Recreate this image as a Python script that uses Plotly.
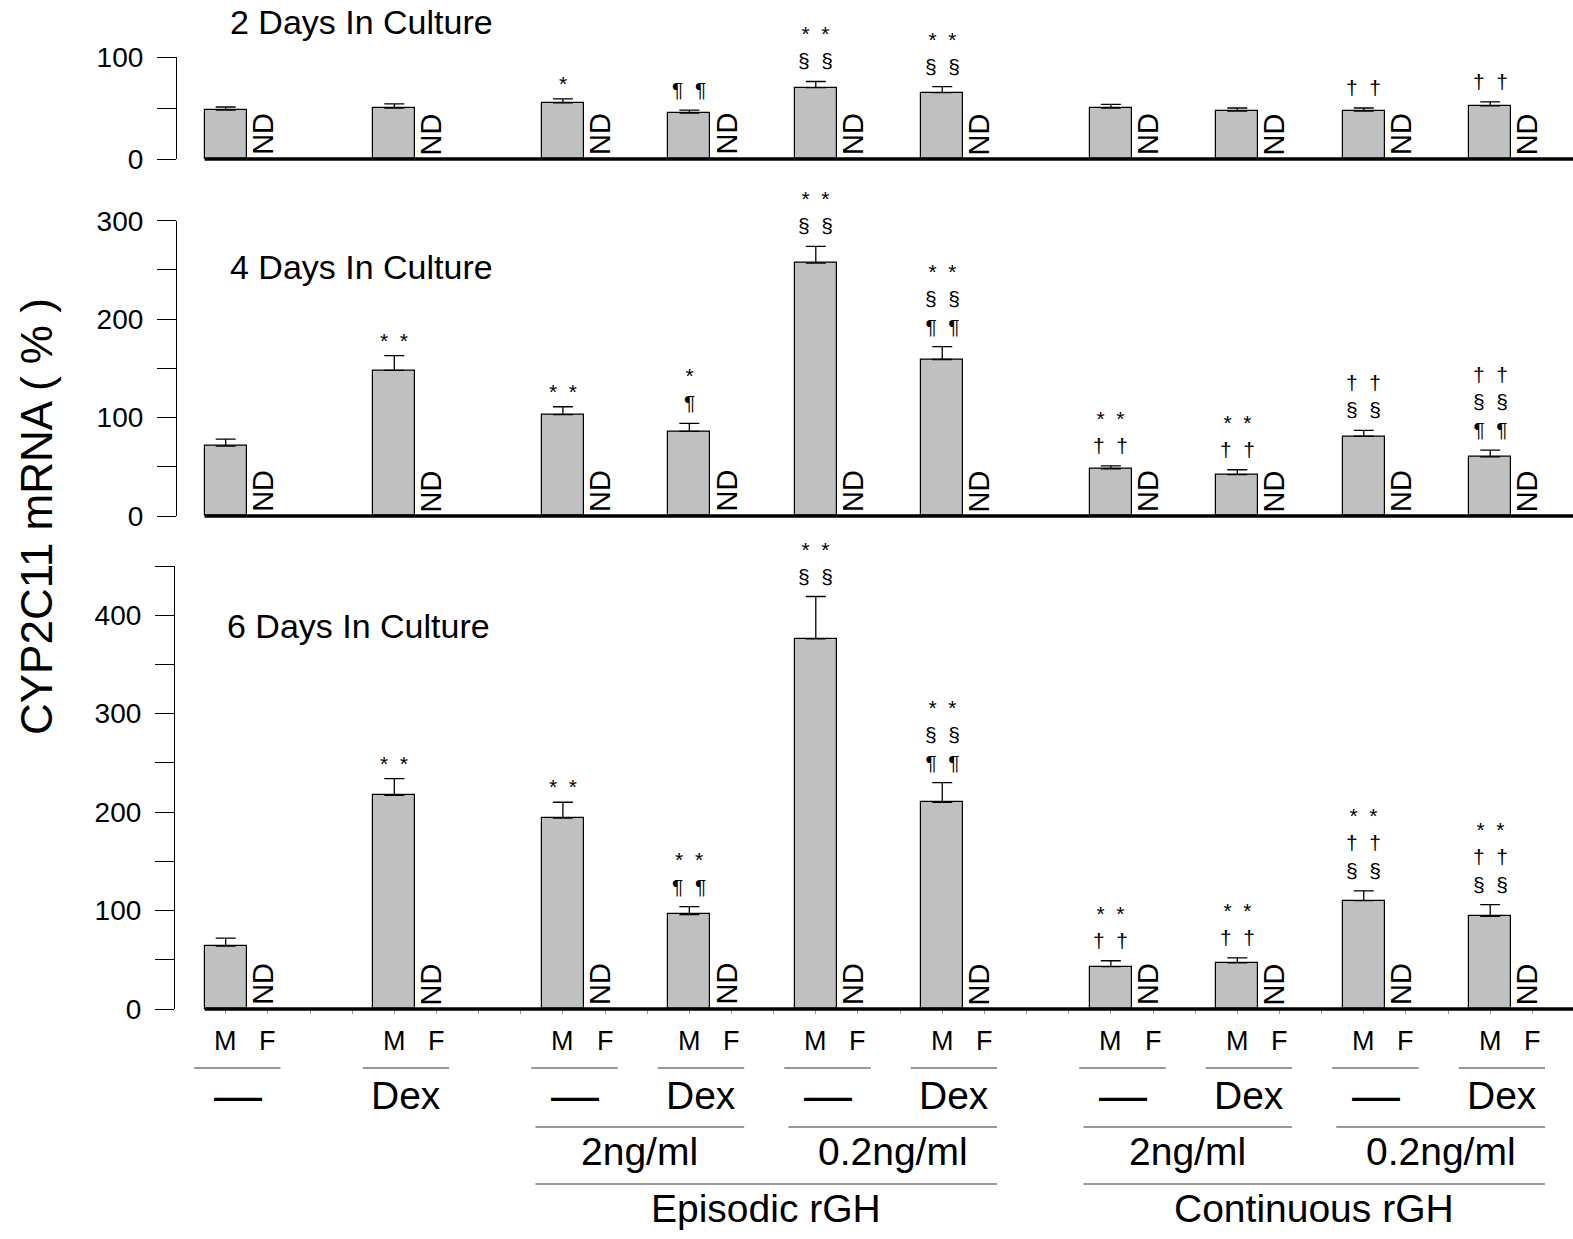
import plotly.graph_objects as go

W, H = 1573, 1239
FONT = "Liberation Sans, Arial, sans-serif"

# ---------------- data ----------------
groups = ["Control", "Dex", "Epi 2ng", "Epi 2ng+Dex", "Epi 0.2ng", "Epi 0.2ng+Dex",
          "Con 2ng", "Con 2ng+Dex", "Con 0.2ng", "Con 0.2ng+Dex"]
block_sizes = [1, 1, 4, 4]

day2_vals = [48, 50, 55, 45, 70, 65, 50, 47, 47, 52]
day2_err = [3, 4, 4, 3, 6, 6, 3.5, 3, 3, 4]
day4_vals = [71, 148, 103, 86, 257, 159, 48, 42, 81, 60]
day4_err = [7, 15, 8, 8, 17, 13, 3, 5, 6, 7]
day6_vals = [64, 217, 194, 96, 376, 210, 43, 47, 110, 94]
day6_err = [8, 17, 16, 8, 43, 20, 6, 5, 10, 12]

day2_sig = [[], [], ["*"], ["¶ ¶"], ["* *", "§ §"], ["* *", "§ §"], [], [], ["† †"], ["† †"]]
day4_sig = [[], ["* *"], ["* *"], ["*", "¶"], ["* *", "§ §"], ["* *", "§ §", "¶ ¶"],
            ["* *", "† †"], ["* *", "† †"], ["† †", "§ §"], ["† †", "§ §", "¶ ¶"]]
day6_sig = [[], ["* *"], ["* *"], ["* *", "¶ ¶"], ["* *", "§ §"], ["* *", "§ §", "¶ ¶"],
            ["* *", "† †"], ["* *", "† †"], ["* *", "† †", "§ §"], ["* *", "† †", "§ §"]]

sex_labels = ["M", "F"]
treatment_labels = ["—", "Dex", "—", "Dex", "—", "Dex", "—", "Dex", "—", "Dex"]
dose_pairs = [(2, 3), (4, 5), (6, 7), (8, 9)]
dose_labels = ["2ng/ml", "0.2ng/ml", "2ng/ml", "0.2ng/ml"]
regimen_spans = [(2, 5), (6, 9)]
regimen_labels = ["Episodic rGH", "Continuous rGH"]
panel_titles = ["2 Days In Culture", "4 Days In Culture", "6 Days In Culture"]
nd_label = "ND"
y_title = "CYP2C11 mRNA ( % )"

# ---------------- layout helpers ----------------
pos = []
xc = 0
for n in block_sizes:
    for k in range(n):
        pos.append(xc)
        xc += 3 if k < n - 1 else 4

PX0, UNIT = 225.7, 42.15
def u_of(px):
    return (px - PX0) / UNIT
def py(px):
    return 1 - px / H

panels = [
    dict(vals=day2_vals, err=day2_err, sig=day2_sig, ypx=(57, 159), x0px=177, yr=[0, 100],
         tickvals=[0, 50, 100], ticktext=["0", "", "100"], title_px=(228, 22)),
    dict(vals=day4_vals, err=day4_err, sig=day4_sig, ypx=(220.7, 516), x0px=177, yr=[0, 300],
         tickvals=list(range(0, 301, 50)), ticktext=["0", "", "100", "", "200", "", "300"], title_px=(228, 267)),
    dict(vals=day6_vals, err=day6_err, sig=day6_sig, ypx=(566, 1009), x0px=175, yr=[0, 450],
         tickvals=list(range(0, 451, 50)),
         ticktext=["0", "", "100", "", "200", "", "300", "", "400", ""], title_px=(225, 626)),
]

SIG_FS = 21

fig = go.Figure()
annotations = []
shapes = []

for i, p in enumerate(panels):
    xa = "x" if i == 0 else f"x{i+1}"
    ya = "y" if i == 0 else f"y{i+1}"
    fig.add_trace(go.Bar(
        x=pos, y=p["vals"], width=1.0, xaxis=xa, yaxis=ya,
        marker=dict(color="#c0c0c0", line=dict(color="black", width=1.2)),
        error_y=dict(type="data", symmetric=False, array=p["err"], arrayminus=[0] * len(pos),
                     color="black", thickness=1.3, width=10),
        showlegend=False, hoverinfo="skip",
    ))
    xkey = "xaxis" if i == 0 else f"xaxis{i+1}"
    ykey = "yaxis" if i == 0 else f"yaxis{i+1}"
    fig.layout[xkey] = dict(
        domain=[p["x0px"] / W, 1], range=[u_of(p["x0px"]), u_of(W)], anchor=ya,
        showline=False, showgrid=False, zeroline=False, showticklabels=False, automargin=False,
        ticks="outside" if i == 2 else "", ticklen=4, tickcolor="#999", tickwidth=1,
        tickvals=list(range(0, 32)) if i == 2 else [],
    )
    fig.layout[ykey] = dict(
        domain=[py(p["ypx"][1]), py(p["ypx"][0])], range=p["yr"], anchor=xa, automargin=False,
        showline=True, linecolor="black", linewidth=1.2, showgrid=False, zeroline=False,
        ticks="outside", ticklen=19, tickwidth=1.2, tickcolor="black",
        tickvals=p["tickvals"], ticktext=p["ticktext"], ticklabelstandoff=8,
        tickfont=dict(family=FONT, size=28, color="black"),
    )
    # thick baseline
    shapes.append(dict(type="line", xref=xa, yref=f"{ya} domain", x0=pos[0] - 0.5, x1=u_of(W),
                       y0=0, y1=0, line=dict(color="black", width=3.5)))
    # panel title
    annotations.append(dict(xref="paper", yref="paper", x=p["title_px"][0] / W, y=py(p["title_px"][1]),
                            xanchor="left", yanchor="middle", text=panel_titles[i], showarrow=False,
                            font=dict(family=FONT, size=34, color="black")))
    for g, xm in enumerate(pos):
        # ND labels
        annotations.append(dict(xref=xa, yref=ya, x=xm + 1, y=0, xshift=-5, yshift=2,
                                text=nd_label, textangle=-90, showarrow=False,
                                xanchor="center", yanchor="bottom",
                                font=dict(family=FONT, size=29, color="black")))
        # significance symbols (one stacked text block per bar)
        lines = p["sig"][g]
        if lines:
            top = p["vals"][g] + p["err"][g]
            shift = 7 - (5 if lines[-1].startswith("*") else 0)
            txt = "<br>".join(s.replace(" ", "\u00a0\u00a0") for s in lines)
            annotations.append(dict(xref=xa, yref=ya, x=xm, y=top, yshift=shift,
                                    text=txt, showarrow=False, align="center",
                                    xanchor="center", yanchor="bottom",
                                    font=dict(family=FONT, size=SIG_FS, color="black")))

# y-axis title
annotations.append(dict(xref="paper", yref="paper", x=36 / W, y=py(517), text=y_title,
                        textangle=-90, showarrow=False, xanchor="center", yanchor="middle",
                        font=dict(family=FONT, size=44, color="black")))

# bottom group labels (bound to the bottom panel's x axis)
XB = "x3"
LC = "#333"
for g, xm in enumerate(pos):
    for j, lab in enumerate(sex_labels):
        annotations.append(dict(xref=XB, yref="paper", x=xm + j, y=py(1041), text=lab,
                                showarrow=False, xanchor="center", yanchor="middle",
                                font=dict(family=FONT, size=27, color="black")))
    shapes.append(dict(type="line", xref=XB, yref="paper", x0=xm - 0.75, x1=xm + 1.3,
                       y0=py(1068), y1=py(1068), line=dict(color=LC, width=1.2)))
    t = treatment_labels[g]
    annotations.append(dict(xref=XB, yref="paper", x=xm + 0.28, y=py(1095), text=t,
                            showarrow=False, xanchor="center", yanchor="middle",
                            font=dict(family=FONT, size=48 if t == "—" else 39, color="black")))

for (a, b), lab in zip(dose_pairs, dose_labels):
    x0, x1 = pos[a] - 0.65, pos[b] + 1.3
    shapes.append(dict(type="line", xref=XB, yref="paper", x0=x0, x1=x1,
                       y0=py(1127), y1=py(1127), line=dict(color=LC, width=1.2)))
    annotations.append(dict(xref=XB, yref="paper", x=(x0 + x1) / 2, y=py(1151), text=lab,
                            showarrow=False, xanchor="center", yanchor="middle",
                            font=dict(family=FONT, size=39, color="black")))

for (a, b), lab in zip(regimen_spans, regimen_labels):
    x0, x1 = pos[a] - 0.65, pos[b] + 1.3
    shapes.append(dict(type="line", xref=XB, yref="paper", x0=x0, x1=x1,
                       y0=py(1184), y1=py(1184), line=dict(color=LC, width=1.2)))
    annotations.append(dict(xref=XB, yref="paper", x=(x0 + x1) / 2, y=py(1208), text=lab,
                            showarrow=False, xanchor="center", yanchor="middle",
                            font=dict(family=FONT, size=39, color="black")))

fig.update_layout(
    width=W, height=H, autosize=False,
    margin=dict(l=0, r=0, t=0, b=0, pad=0, autoexpand=False),
    paper_bgcolor="white", plot_bgcolor="white",
    bargap=0, annotations=annotations, shapes=shapes,
    font=dict(family=FONT, color="black"),
)

fig.write_html("out.html", config={"displayModeBar": False},
               post_script="document.body.style.margin='0';document.body.style.overflow='hidden';")
